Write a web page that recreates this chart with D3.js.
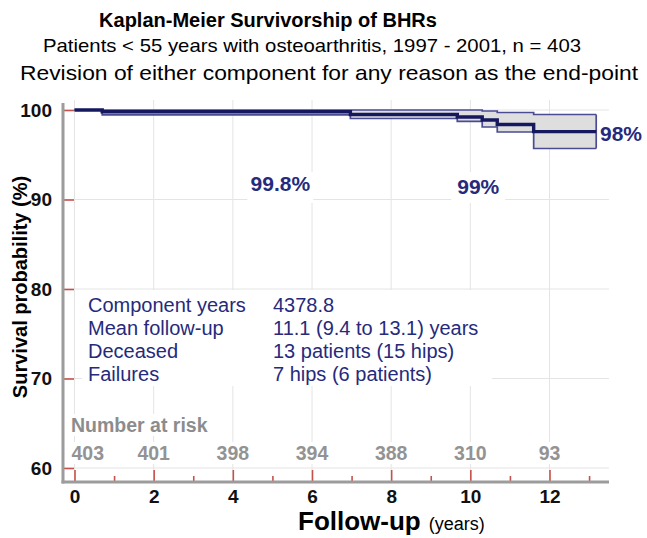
<!DOCTYPE html>
<html><head><meta charset="utf-8">
<script src="https://cdn.jsdelivr.net/npm/d3@7"></script>
<style>body{margin:0;background:#fff} svg{display:block;font-family:"Liberation Sans",Arial,sans-serif}</style>
</head><body><svg id="c" width="647" height="538"></svg>
<script>
// ---- data ----
const years     = [0, 0.7, 6.97, 9.67, 10.3, 10.68, 11.6, 13.18];
const survival  = [100, 99.81, 99.5, 99.22, 98.88, 98.38, 97.58, 97.58];
const upperCI   = [100, 100, 100, 100, 99.89, 99.72, 99.5, 99.5];
const lowerCI   = [100, 99.45, 99.05, 98.72, 98.1, 97.54, 95.7, 95.7];
const yTicks = [60, 70, 80, 90, 100];
const xMajorTicks = [0, 2, 4, 6, 8, 10, 12];
const xMinorTicks = [1, 3, 5, 7, 9, 11, 13];
const riskYears  = [0, 2, 4, 6, 8, 10, 12];
const riskCounts = [403, 401, 398, 394, 388, 310, 93];
const statLabels = ["Component years", "Mean follow-up", "Deceased", "Failures"];
const statValues = ["4378.8", "11.1 (9.4 to 13.1) years", "13 patients (15 hips)", "7 hips (6 patients)"];
const markLabels = ["99.8%", "99%", "98%"];
const titles = ["Kaplan-Meier Survivorship of BHRs",
  "Patients < 55 years with osteoarthritis, 1997 - 2001, n = 403",
  "Revision of either component for any reason as the end-point"];

// ---- layout ----
const svg = d3.select("#c");
const x = d3.scaleLinear().domain([0, 12]).range([74.5, 549.5]);
const y = d3.scaleLinear().domain([60, 100]).range([468, 110]);
const L = 63, R = 609, T = 100, B = 482;
const navy = "#262a7c", gray = "#8c8c8c", red = "#c8504a";

// titles
svg.append("text").attr("x", 268).attr("y", 27).attr("text-anchor", "middle")
  .attr("font-size", 20).attr("font-weight", "bold").text(titles[0]);
svg.append("text").attr("x", 312).attr("y", 52).attr("text-anchor", "middle")
  .attr("font-size", 19).attr("textLength", 538).attr("lengthAdjust", "spacingAndGlyphs").text(titles[1]);
svg.append("text").attr("x", 329).attr("y", 80).attr("text-anchor", "middle")
  .attr("font-size", 21).attr("textLength", 618).attr("lengthAdjust", "spacingAndGlyphs").text(titles[2]);

// grid
const grid = svg.append("g").attr("stroke", "#e4e4e4").attr("stroke-width", 1);
grid.selectAll(".v").data(xMajorTicks).join("line")
  .attr("x1", d => x(d)).attr("x2", d => x(d)).attr("y1", T).attr("y2", B);
grid.selectAll(".h").data(yTicks).join("line")
  .attr("x1", L).attr("x2", R).attr("y1", d => y(d)).attr("y2", d => y(d));

// CI band and lines
const pts = years.map((t, i) => ({t, s: survival[i], u: upperCI[i], l: lowerCI[i]}));
svg.append("path").datum(pts)
  .attr("d", d3.area().x(d => x(d.t)).y0(d => y(d.l)).y1(d => y(d.u)).curve(d3.curveStepAfter))
  .attr("fill", "#dedede");
const ciLine = k => d3.line().x(d => x(d.t)).y(d => y(d[k])).curve(d3.curveStepAfter);
["u", "l"].forEach(k => svg.append("path").datum(pts).attr("d", ciLine(k))
  .attr("fill", "none").attr("stroke", "#4a4c92").attr("stroke-width", 1.7));
const last = pts[pts.length - 1];
svg.append("line").attr("x1", x(last.t)).attr("x2", x(last.t))
  .attr("y1", y(last.u)).attr("y2", y(last.l)).attr("stroke", "#4a4c92").attr("stroke-width", 1.7);
svg.append("path").datum(pts).attr("d", ciLine("s"))
  .attr("fill", "none").attr("stroke", "#15185e").attr("stroke-width", 3.4);

// labels on curve
const lab = [{i: 0, x: x(5.2), y: 191, a: "middle"}, {i: 1, x: x(10.2), y: 194, a: "middle"}, {i: 2, x: 600, y: 141, a: "start"}];
lab.forEach(o => {
  if (o.i < 2) svg.append("rect").attr("x", o.x - (o.i === 0 ? 33 : 27)).attr("width", o.i === 0 ? 66 : 54)
    .attr("y", 172).attr("height", 31).attr("fill", "#fff");
  svg.append("text").attr("x", o.x).attr("y", o.y).attr("text-anchor", o.a)
    .attr("font-size", 21).attr("font-weight", "bold").attr("fill", navy).text(markLabels[o.i]);
});

// stats box
svg.append("rect").attr("x", 82).attr("y", 290).attr("width", 410).attr("height", 96).attr("fill", "#fff");
statLabels.forEach((s, i) => {
  svg.append("text").attr("x", 88).attr("y", 312 + i * 23).attr("font-size", 20).attr("fill", navy).text(s);
  svg.append("text").attr("x", 273).attr("y", 312 + i * 23).attr("font-size", 20).attr("fill", navy).text(statValues[i]);
});

// number at risk
svg.append("rect").attr("x", 70).attr("y", 414).attr("width", 142).attr("height", 22).attr("fill", "#fff");
svg.append("text").attr("x", 71).attr("y", 432).attr("font-size", 19.5).attr("font-weight", "bold")
  .attr("fill", gray).text("Number at risk");
riskYears.forEach((t, i) => {
  const first = i === 0;
  const tx = first ? x(t) - 3 : x(t);
  const w = String(riskCounts[i]).length * 11 + 4;
  svg.append("rect").attr("x", first ? tx - 1 : tx - w / 2).attr("y", 442).attr("width", w).attr("height", 22).attr("fill", "#fff");
  svg.append("text").attr("x", tx).attr("y", 460).attr("text-anchor", first ? "start" : "middle")
    .attr("font-size", 19.5).attr("font-weight", "bold").attr("fill", "#939393").text(riskCounts[i]);
});

// axes
const yAxis = d3.axisLeft(y).tickValues(yTicks).tickSize(-11).tickPadding(11);
const gy = svg.append("g").attr("transform", `translate(${L},0)`).call(yAxis);
const xAxis = d3.axisBottom(x).tickValues(xMajorTicks).tickSize(-12).tickPadding(8);
const gx = svg.append("g").attr("transform", `translate(0,${B})`).call(xAxis);
const xMinor = d3.axisBottom(x).tickValues(xMinorTicks).tickSize(-6).tickFormat("");
const gxm = svg.append("g").attr("transform", `translate(0,${B})`).call(xMinor);
[gy, gx, gxm].forEach(g => {
  g.select(".domain").remove();
  g.selectAll(".tick line").attr("stroke", red).attr("stroke-width", 1.6);
  g.selectAll(".tick text").attr("font-size", 19).attr("font-weight", "bold").attr("fill", "#111")
    .attr("font-family", '"Liberation Sans",Arial,sans-serif');
});
svg.append("line").attr("x1", L).attr("x2", L).attr("y1", 103).attr("y2", B + 1.5)
  .attr("stroke", "#9c9c9c").attr("stroke-width", 3);
svg.append("line").attr("x1", L - 1.5).attr("x2", R).attr("y1", B).attr("y2", B)
  .attr("stroke", "#9c9c9c").attr("stroke-width", 3);

// axis titles
svg.append("text").attr("transform", "translate(27,287) rotate(-90)").attr("text-anchor", "middle")
  .attr("font-size", 20).attr("font-weight", "bold").text("Survival probability (%)");
const xt = svg.append("text").attr("x", 298).attr("y", 530);
xt.append("tspan").attr("font-size", 26).attr("font-weight", "bold").text("Follow-up");
xt.append("tspan").attr("font-size", 18).attr("dx", 8).text("(years)");
</script></body></html>
